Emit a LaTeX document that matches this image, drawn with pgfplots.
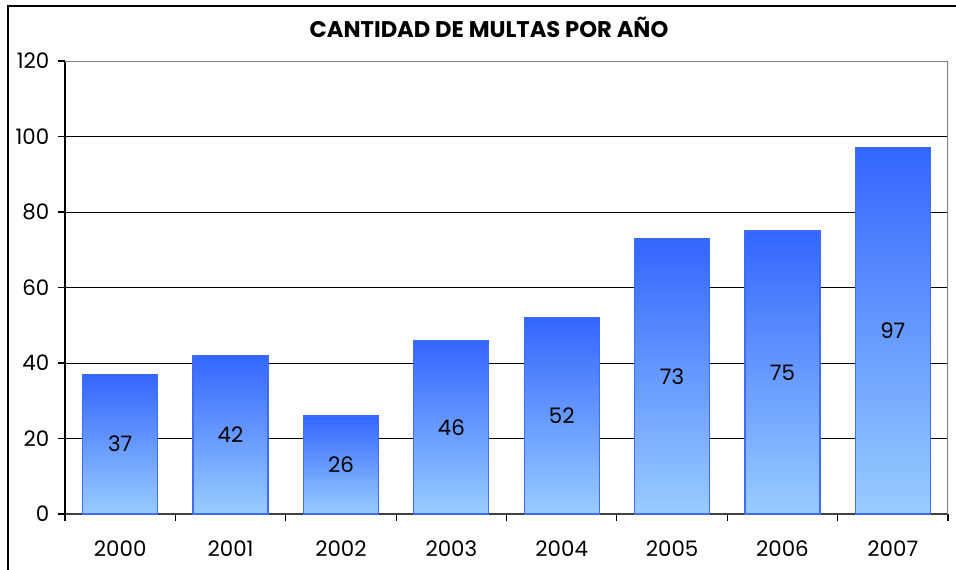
\documentclass[border=0pt]{standalone}
\usepackage{pgfplots}
\pgfplotsset{compat=1.18}
\usepackage{fontspec}
\setmainfont{Poppins}
\definecolor{bartop}{HTML}{3366FF}
\definecolor{barbot}{HTML}{99CCFF}
\definecolor{baredge}{HTML}{3F6BF5}
\pgfplotsset{onebar/.style={draw=baredge, line width=1pt, top color=bartop, bottom color=barbot, bar shift=0pt}}
\begin{document}
\begin{tikzpicture}
\useasboundingbox (0,0) rectangle (717pt,426.75pt);
\draw[black, line width=1.1pt] (6pt,-2pt) -- (6pt,422.25pt) -- (720pt,422.25pt);
\node[font=\fontsize{17}{20}\selectfont\bfseries] at (366.75pt,406.5pt) {CANTIDAD DE MULTAS POR AÑO};
\begin{axis}[
  at={(48.75pt,41.25pt)}, anchor=south west,
  scale only axis, width=662.25pt, height=339.75pt,
  xmin=-0.5, xmax=7.5, ymin=0, ymax=120,
  ytick={0,20,...,120},
  xtick={-0.5,0.5,...,7.5},
  x tick label as interval,
  xticklabels={2000,2001,2002,2003,2004,2005,2006,2007},
  axis x line*=bottom, axis y line*=left,
  axis line style={-},
  x axis line style={draw=black!75, line width=1.1pt},
  y axis line style={draw=black, line width=0.8pt},
  tick align=outside, major tick length=5.25pt,
  tick style={black, line width=0.8pt},
  ymajorgrids, grid style={black, line width=0.6pt},
  tick label style={font=\fontsize{16}{18}\selectfont},
  /pgf/number format/assume math mode=true,
  xticklabel style={yshift=-11pt},
  yticklabel style={xshift=-3pt},
  ybar, bar width=56.25pt,
  nodes near coords,
  visualization depends on=rawy\as\rawy,
  every node near coord/.append style={anchor=center, font=\fontsize{16}{18}\selectfont, shift={(axis direction cs:0,-\rawy/2)}},
]
\addplot[onebar] coordinates {(0,37)};
\addplot[onebar] coordinates {(1,42)};
\addplot[onebar] coordinates {(2,26)};
\addplot[onebar] coordinates {(3,46)};
\addplot[onebar] coordinates {(4,52)};
\addplot[onebar] coordinates {(5,73)};
\addplot[onebar] coordinates {(6,75)};
\addplot[onebar] coordinates {(7,97)};
\draw[gray, line width=1.1pt] (rel axis cs:0,1) -- (rel axis cs:1,1) -- (rel axis cs:1,0);
\end{axis}
\end{tikzpicture}
\end{document}
